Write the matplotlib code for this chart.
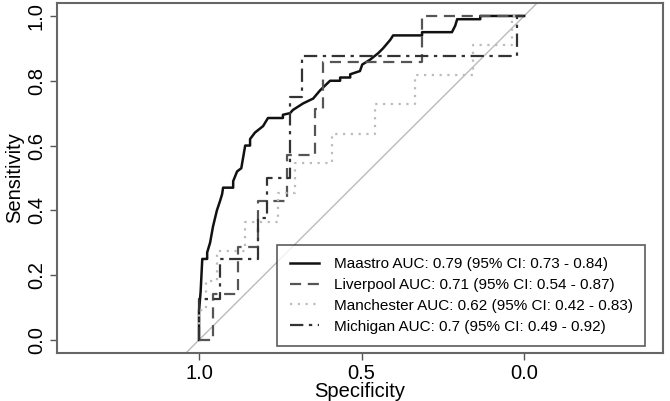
import matplotlib
matplotlib.use("Agg")
import matplotlib.pyplot as plt

plt.rcParams['font.family'] = ['Liberation Sans', 'DejaVu Sans']

# ROC curves: (specificity, sensitivity) vertices
maastro_spec = [1.0, 1.0, 0.995, 0.99, 0.975, 0.975, 0.966, 0.957, 0.945, 0.935, 0.929, 0.926,
                0.895, 0.895, 0.883, 0.87, 0.858, 0.843, 0.843, 0.828, 0.803, 0.788, 0.742,
                0.742, 0.72, 0.711, 0.68, 0.649, 0.628, 0.597, 0.566, 0.566, 0.535, 0.535,
                0.505, 0.498, 0.474, 0.449, 0.434, 0.412, 0.403, 0.314, 0.314, 0.222, 0.212,
                0.206, 0.135, 0.135, 0.0]
maastro_sens = [0.0, 0.09, 0.15, 0.25, 0.25, 0.27, 0.30, 0.35, 0.40, 0.43, 0.45, 0.47,
                0.47, 0.49, 0.52, 0.53, 0.60, 0.60, 0.62, 0.64, 0.66, 0.685, 0.685,
                0.695, 0.70, 0.71, 0.73, 0.745, 0.77, 0.80, 0.80, 0.81, 0.81, 0.82,
                0.83, 0.85, 0.865, 0.885, 0.90, 0.926, 0.94, 0.94, 0.95, 0.95, 0.97,
                0.99, 0.99, 1.0, 1.0]

liverpool_spec = [1.0, 0.957, 0.957, 0.88, 0.88, 0.82, 0.82, 0.73, 0.73, 0.643, 0.643,
                  0.618, 0.618, 0.314, 0.314, 0.0]
liverpool_sens = [0.0, 0.0, 0.143, 0.143, 0.286, 0.286, 0.429, 0.429, 0.571, 0.571, 0.714,
                  0.714, 0.857, 0.857, 1.0, 1.0]

manchester_spec = [1.0, 1.0, 0.98, 0.98, 0.945, 0.945, 0.858, 0.858, 0.757, 0.757, 0.705,
                   0.705, 0.59, 0.59, 0.458, 0.458, 0.335, 0.335, 0.157, 0.157, 0.037,
                   0.037, 0.0]
manchester_sens = [0.0, 0.091, 0.091, 0.182, 0.182, 0.273, 0.273, 0.364, 0.364, 0.455, 0.455,
                   0.545, 0.545, 0.636, 0.636, 0.727, 0.727, 0.818, 0.818, 0.909, 0.909,
                   1.0, 1.0]

michigan_spec = [1.0, 1.0, 0.935, 0.935, 0.82, 0.82, 0.79, 0.79, 0.72, 0.72, 0.683, 0.683,
                 0.022, 0.022, 0.0]
michigan_sens = [0.0, 0.125, 0.125, 0.25, 0.25, 0.375, 0.375, 0.5, 0.5, 0.75, 0.75, 0.875,
                 0.875, 1.0, 1.0]

labels = ["Maastro AUC: 0.79 (95% CI: 0.73 - 0.84)",
          "Liverpool AUC: 0.71 (95% CI: 0.54 - 0.87)",
          "Manchester AUC: 0.62 (95% CI: 0.42 - 0.83)",
          "Michigan AUC: 0.7 (95% CI: 0.49 - 0.92)"]

fig = plt.figure(figsize=(6.7, 4.01), dpi=100)
ax = fig.add_axes([0.085, 0.12, 0.905, 0.8725])

# chance line
ax.plot([1.5, -0.5], [-0.5, 1.5], color='#bbbbbb', lw=1.0, zorder=1)

ax.plot(maastro_spec, maastro_sens, color='#111111', lw=1.8, ls='-', label=labels[0])
ax.plot(liverpool_spec, liverpool_sens, color='#555555', lw=1.6, ls=(0, (5, 3)), label=labels[1])
ax.plot(manchester_spec, manchester_sens, color='#bbbbbb', lw=1.6, ls=(0, (1, 2.5)), label=labels[2])
ax.plot(michigan_spec, michigan_sens, color='#333333', lw=1.6, ls=(0, (6, 2.5, 1.5, 2.5)), label=labels[3])

ax.set_xlim(1.437, -0.428)
ax.set_ylim(-0.04, 1.04)
ax.set_xticks([1.0, 0.5, 0.0])
ax.set_xticklabels(["1.0", "0.5", "0.0"])
ax.set_yticks([0.0, 0.2, 0.4, 0.6, 0.8, 1.0])
ax.set_yticklabels(["0.0", "0.2", "0.4", "0.6", "0.8", "1.0"], rotation=90, va='center')
ax.tick_params(labelsize=14.5, length=5, width=1, color='#555555', pad=3)
for s in ax.spines.values():
    s.set_color('#666666')
    s.set_linewidth(1.5)

ax.set_xlabel("Specificity", fontsize=14.5, labelpad=-1)
ax.set_ylabel("Sensitivity", fontsize=14.5, labelpad=2)

leg = ax.legend(loc='lower right', bbox_to_anchor=(0.970, 0.02), fontsize=11,
                fancybox=False, edgecolor='#333333', handlelength=1.9,
                handletextpad=1.0, labelspacing=0.45, borderpad=0.8, borderaxespad=0)
leg.get_frame().set_linewidth(1.2)

fig.savefig("out.png", dpi=100)
